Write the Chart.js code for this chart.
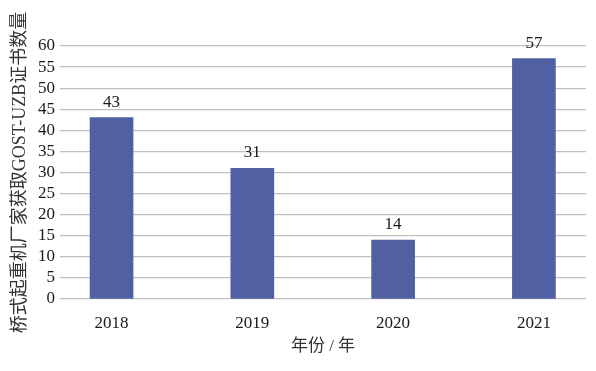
<!DOCTYPE html>
<html lang="zh">
<head>
    <meta charset="UTF-8">
    <title>GOST-UZB</title>
    <script src="https://cdn.jsdelivr.net/npm/chart.js"></script>
    <style>
        html, body { margin: 0; padding: 0; background: #ffffff; }
        #wrap { width: 596px; height: 371px; position: relative; }
    </style>
</head>
<body>
    <div id="wrap"><canvas id="chart"></canvas></div>
    <script>
        const years = [2018, 2019, 2020, 2021];
        const counts = [43, 31, 14, 57];
        const yTicks = [0, 5, 10, 15, 20, 25, 30, 35, 40, 45, 50, 55, 60];

        const serif = "'Liberation Serif', 'Times New Roman', 'Noto Sans CJK SC', serif";

        // value labels above each bar
        const barLabels = {
            id: 'barLabels',
            afterDatasetsDraw(chart) {
                const ctx = chart.ctx;
                const meta = chart.getDatasetMeta(0);
                ctx.save();
                ctx.font = '17px ' + serif;
                ctx.fillStyle = '#1a1a1a';
                ctx.textAlign = 'center';
                ctx.textBaseline = 'alphabetic';
                meta.data.forEach((bar, i) => {
                    ctx.fillText(String(counts[i]), bar.x, bar.y - 11);
                });
                ctx.restore();
            }
        };

        new Chart(document.getElementById('chart'), {
            type: 'bar',
            data: {
                datasets: [{
                    data: years.map((y, i) => ({ x: y, y: counts[i] })),
                    backgroundColor: '#5060a2',
                    barThickness: 43
                }]
            },
            options: {
                responsive: true,
                maintainAspectRatio: false,
                animation: false,
                layout: { padding: { top: 46, right: 10, left: 0, bottom: 0 } },
                plugins: {
                    legend: { display: false },
                    tooltip: { enabled: false }
                },
                scales: {
                    x: {
                        type: 'linear',
                        offset: false,
                        min: 2017.634,
                        max: 2021.37,
                        afterBuildTicks: s => { s.ticks = years.map(v => ({ value: v })); },
                        afterFit: s => { s.height = 72; },
                        grid: { display: false, offset: false },
                        border: { display: false },
                        ticks: {
                            autoSkip: false,
                            maxRotation: 0,
                            padding: 6,
                            color: '#1a1a1a',
                            font: { family: serif, size: 17 },
                            callback: v => String(v)
                        },
                        title: {
                            display: true,
                            text: '年份 / 年',
                            color: '#333333',
                            font: { family: serif, size: 17 },
                            padding: { top: 0, bottom: 14 }
                        }
                    },
                    y: {
                        min: 0,
                        max: 60,
                        afterBuildTicks: s => { s.ticks = yTicks.map(v => ({ value: v })); },
                        afterFit: s => { s.width = 60; },
                        grid: { color: '#c0c0c0', lineWidth: 1.2, drawTicks: false },
                        border: { display: false },
                        ticks: {
                            autoSkip: false,
                            padding: 5,
                            color: '#1a1a1a',
                            font: { family: serif, size: 17 }
                        },
                        title: {
                            display: true,
                            text: '桥式起重机厂家获取GOST-UZB证书数量',
                            color: '#333333',
                            font: { family: serif, size: 18 },
                            padding: { top: 9, bottom: 0 }
                        }
                    }
                }
            },
            plugins: [barLabels]
        });
    </script>
</body>
</html>
